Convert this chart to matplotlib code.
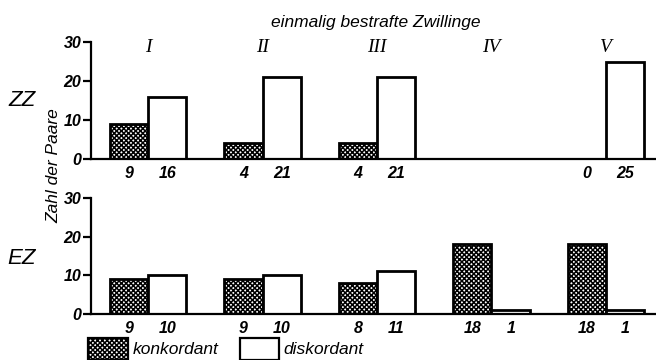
import matplotlib
matplotlib.use("Agg")
import matplotlib.pyplot as plt
from matplotlib.patches import Rectangle
import numpy as np

groups = ["I", "II", "III", "IV", "V"]
zz_konk = [9, 4, 4, None, 0]
zz_disk = [16, 21, 21, None, 25]
ez_konk = [9, 9, 8, 18, 18]
ez_disk = [10, 10, 11, 1, 1]
yticks = [0, 10, 20, 30]

plt.rcParams['font.family'] = ['Liberation Sans', 'DejaVu Sans']
plt.rcParams['hatch.linewidth'] = 1.1
plt.rcParams['hatch.color'] = 'black'

fig = plt.figure(figsize=(6.56, 3.6), dpi=100)
ax1 = fig.add_axes([91/656, 1-159/360, 1-91/656, (159-42)/360])
ax2 = fig.add_axes([91/656, 1-314/360, 1-91/656, (314-198)/360])

w = 0.336
x = np.arange(len(groups))
HATCH = 'xxxxxxx'

def draw(ax, konk, disk):
    for i, (k, d) in enumerate(zip(konk, disk)):
        if k is not None:
            if k > 0:
                ax.bar(x[i] - w/2, k, w, facecolor='white', edgecolor='black',
                       hatch=HATCH, linewidth=2.0, zorder=2)
            ax.text(x[i] - w/2, -1.8, str(k), ha='center', va='top',
                    fontsize=11.5, style='italic', fontweight='bold')
        if d is not None:
            ax.bar(x[i] + w/2, d, w, facecolor='white', edgecolor='black',
                   linewidth=2.0, zorder=2)
            ax.text(x[i] + w/2, -1.8, str(d), ha='center', va='top',
                    fontsize=11.5, style='italic', fontweight='bold')
    ax.set_xlim(-0.498, 4.437)
    ax.set_ylim(0, 30)
    ax.set_yticks(yticks)
    ax.set_yticklabels([str(t) for t in yticks], fontsize=11.5,
                       style='italic', fontweight='bold')
    ax.set_xticks([])
    for s in ['top', 'right']:
        ax.spines[s].set_visible(False)
    ax.spines['left'].set_linewidth(1.6)
    ax.spines['bottom'].set_linewidth(1.6)
    ax.tick_params(axis='y', direction='out', length=6, width=1.6, pad=1)
    ax.patch.set_alpha(0)

draw(ax1, zz_konk, zz_disk)
draw(ax2, ez_konk, ez_disk)

for i, g in enumerate(groups):
    ax1.text(x[i], 28.5, g, ha='center', va='center', fontsize=14,
             family='Liberation Serif', style='italic')

fig.text(376/656, 1-22/360, "einmalig bestrafte Zwillinge", ha='center',
         va='center', fontsize=12.5, style='italic')
fig.text(22/656, 1-100/360, "ZZ", ha='center', va='center', fontsize=16,
         style='italic')
fig.text(22/656, 1-258/360, "EZ", ha='center', va='center', fontsize=16,
         style='italic')
fig.text(54/656, 1-166/360, "Zahl der Paare", ha='center', va='center',
         fontsize=12.5, style='italic', rotation=90)

# legend
fig.patches.append(Rectangle((88/656, 0.0), 40/656, 22/360,
                             transform=fig.transFigure, facecolor='white',
                             edgecolor='black', hatch=HATCH, linewidth=1.6))
fig.text(133/656, 1-350/360, "konkordant", ha='left', va='center',
         fontsize=12.5, style='italic')
fig.patches.append(Rectangle((240/656, 0.0), 39/656, 22/360,
                             transform=fig.transFigure, facecolor='white',
                             edgecolor='black', linewidth=1.6))
fig.text(283/656, 1-350/360, "diskordant", ha='left', va='center',
         fontsize=12.5, style='italic')

fig.savefig("out.png", dpi=100)
